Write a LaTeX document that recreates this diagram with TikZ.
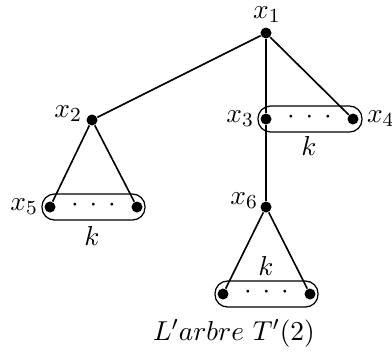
\documentclass[tikz,border=0pt]{standalone}
\begin{document}
\begin{tikzpicture}[x=0.4pt,y=-0.4pt,
  every node/.style={font=\fontsize{11}{13}\selectfont},
  vtx/.style={circle,fill=black,inner sep=0pt,minimum size=4.4pt},
  edge/.style={line width=0.65pt},
  grp/.style={draw,line width=0.5pt,rounded corners=5pt},
  lbl/.style={inner sep=1pt},
  dotsn/.style={inner sep=0pt,text height=3.5pt,text depth=-2pt}]
\useasboundingbox (0,0) rectangle (392,356);
% vertices
\node[vtx] (x1) at (266,33) {};
\node[vtx] (x2) at (92,120) {};
\node[vtx] (x3) at (266,119) {};
\node[vtx] (x4) at (353,119) {};
\node[vtx] (x5) at (50,207) {};
\node[vtx] (x5b) at (137,207) {};
\node[vtx] (x6) at (266,207) {};
\node[vtx] (b1) at (223,294) {};
\node[vtx] (b2) at (310,294) {};
% edges
\draw[edge] (x1) -- (x2);
\draw[edge] (x1) -- (x3);
\draw[edge] (x3) -- (x6);
\draw[edge] (x1) -- (x4);
\draw[edge] (x2) -- (x5);
\draw[edge] (x2) -- (x5b);
\draw[edge] (x6) -- (b1);
\draw[edge] (x6) -- (b2);
% groups
\draw[grp] (258,106) rectangle (362,132);
\draw[grp] (42,194) rectangle (145,220);
\draw[grp] (215,281) rectangle (318,307);
% dots
\node[dotsn] (d1) at (309.5,119) {${\cdot}\hspace{4.4pt}{\cdot}\hspace{4.4pt}{\cdot}$};
\node[dotsn] (d2) at (93.5,207) {${\cdot}\hspace{4.4pt}{\cdot}\hspace{4.4pt}{\cdot}$};
\node[dotsn] (d3) at (266.5,294) {${\cdot}\hspace{4.4pt}{\cdot}\hspace{4.4pt}{\cdot}$};
% labels
\node[lbl] (l1) at (267,15) {$x_1$};
\node[lbl,anchor=east] (l2) at (85,114) {$x_2$};
\node[lbl,anchor=east] (l3) at (257,119) {$x_3$};
\node[lbl,anchor=west] (l4) at (364,119) {$x_4$};
\node[lbl,anchor=east] (l5) at (41,207) {$x_5$};
\node[lbl,anchor=east] (l6) at (261,201) {$x_6$};
\node[lbl] (k1) at (309,146) {$k$};
\node[lbl] (k2) at (92,236) {$k$};
\node[lbl] (k3) at (266,266) {$k$};
\node[lbl] (cap) at (234,333) {$L'arbre\ T'(2)$};
\end{tikzpicture}
\end{document}
